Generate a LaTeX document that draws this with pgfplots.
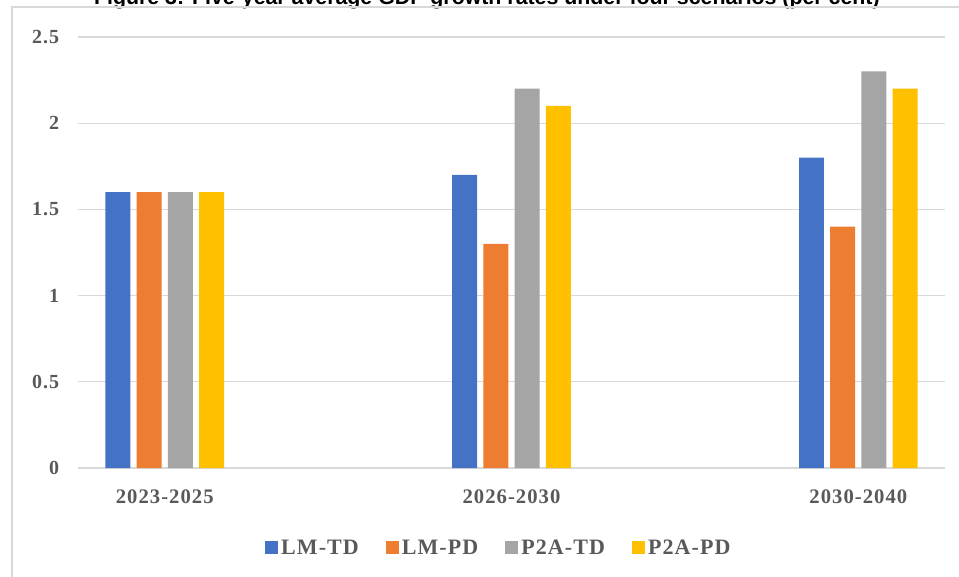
\documentclass[border=0pt]{standalone}
\usepackage{fontspec}
\setmainfont{Liberation Serif}[LetterSpace=5]
\newfontfamily\titlefont{Liberation Sans}
\usepackage{pgfplots}
\pgfplotsset{compat=1.18}
\definecolor{cBlue}{HTML}{4472C4}
\definecolor{cOrange}{HTML}{ED7D31}
\definecolor{cGray}{HTML}{A5A5A5}
\definecolor{cYellow}{HTML}{FFC000}
\definecolor{gridc}{HTML}{D9D9D9}
\definecolor{txt}{HTML}{595959}
\begin{document}
\begin{tikzpicture}
\useasboundingbox (0pt,0pt) rectangle (719.25pt,432pt);
\clip (0pt,0pt) rectangle (719.25pt,432pt);
% title (cut off at top, as in the reference)
\node[anchor=base east, inner sep=0pt, font=\titlefont\bfseries\fontsize{16}{19}\selectfont] at (660pt,428.25pt) {Figure 3: Five-year average GDP growth rates under four scenarios (per cent)};
% chart border
\draw[gridc, line width=1.1pt] (9pt,-10pt) -- (9pt,426.75pt) -- (740pt,426.75pt);
\begin{axis}[
  at={(58.5pt,81pt)}, anchor=south west,
  scale only axis, width=650.25pt, height=323.25pt,
  xmin=-0.25, xmax=2.25, ymin=0, ymax=2.5,
  xtick={0,1,2}, xticklabels={2023-2025,2026-2030,2030-2040},
  ytick={0,0.5,1,1.5,2,2.5},
  major tick length=0pt,
  axis line style={draw=none},
  ymajorgrids, grid style={gridc, line width=1pt},
  /pgf/number format/assume math mode=true,
  ticklabel style={font=\bfseries\fontsize{15}{18}\selectfont, text=txt, inner sep=0pt},
  yticklabel style={anchor=east, xshift=-14pt},
  xticklabel style={anchor=north, yshift=-16pt, font=\bfseries\fontsize{15.5}{18}\selectfont},
  ybar, bar width=0.072,
  legend columns=4,
  legend style={at={(0.4856,-0.1856)}, anchor=center, draw=none, fill=none,
    font=\bfseries\fontsize{16.5}{19}\selectfont, text=txt,
    /tikz/every even column/.append style={column sep=18pt},
    /tikz/every odd column/.append style={column sep=0.5pt},
    inner sep=0pt},
  legend image code/.code={\fill[#1] (0pt,-4.8pt) rectangle (9.75pt,4.95pt);},
]
\addplot[fill=cBlue, draw=none, bar shift=-0.135] coordinates {(0,1.6) (1,1.7) (2,1.8)};
\addplot[fill=cOrange, draw=none, bar shift=-0.045] coordinates {(0,1.6) (1,1.3) (2,1.4)};
\addplot[fill=cGray, draw=none, bar shift=0.045] coordinates {(0,1.6) (1,2.2) (2,2.3)};
\addplot[fill=cYellow, draw=none, bar shift=0.135] coordinates {(0,1.6) (1,2.1) (2,2.2)};
\legend{LM-TD,LM-PD,P2A-TD,P2A-PD}
\end{axis}
\end{tikzpicture}
\end{document}
